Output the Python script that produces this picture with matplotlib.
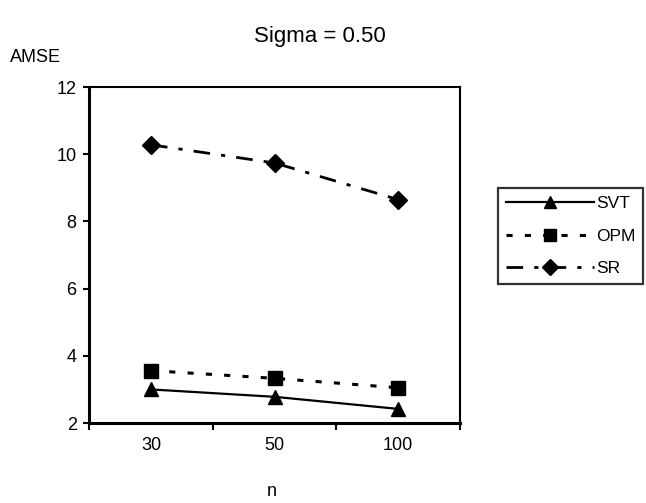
import matplotlib
matplotlib.use("Agg")
import matplotlib.pyplot as plt
import numpy as np

plt.rcParams['font.family'] = ['Liberation Sans', 'DejaVu Sans']

# AMSE by sample size
sample_sizes = ['30', '50', '100']
svt = [3.0, 2.78, 2.42]
opm = [3.56, 3.33, 3.05]
sr = [10.28, 9.74, 8.65]

fig = plt.figure(figsize=(6.46, 5.03), dpi=100)
ax = fig.add_axes([0.138, 0.159, 0.574, 0.668])

x = np.arange(len(sample_sizes))
ax.plot(x, svt, color='black', linestyle='-', linewidth=1.6,
        marker='^', markersize=10, label='SVT')
ax.plot(x, opm, color='black', linestyle=(0, (2, 4)), linewidth=2.2,
        marker='s', markersize=10, label='OPM')
ax.plot(x, sr, color='black', linestyle=(0, (6, 4, 1.5, 4)), linewidth=2,
        marker='D', markersize=9, label='SR')

ax.set_xlim(-0.5, 2.5)
ax.set_ylim(2, 12)
ax.set_yticks([2, 4, 6, 8, 10, 12])

# category labels sit between tick marks
ax.set_xticks([-0.5, 0.5, 1.5, 2.5])
ax.set_xticklabels([])
ax.set_xticks(x, minor=True)
ax.set_xticklabels(sample_sizes, minor=True)
ax.tick_params(axis='x', which='minor', length=0, pad=10, labelsize=13)
ax.tick_params(axis='x', which='major', length=5, width=1.5, direction='out')
ax.tick_params(axis='y', length=4, width=1.5, direction='out', labelsize=13, pad=5)

for side in ['left', 'bottom']:
    ax.spines[side].set_linewidth(2.2)
for side in ['top', 'right']:
    ax.spines[side].set_linewidth(1.5)

fig.text(0.495, 0.928, 'Sigma = 0.50', ha='center', va='center', fontsize=16)
fig.text(0.016, 0.886, 'AMSE', ha='left', va='center', fontsize=13)
fig.text(0.42, 0.022, 'n', ha='center', va='center', fontsize=13)

leg = ax.legend(loc='upper left', bbox_to_anchor=(0.771, 0.626),
                bbox_transform=fig.transFigure, handlelength=5.1,
                fontsize=12.5, frameon=True, fancybox=False,
                borderpad=0.45, borderaxespad=0, labelspacing=1.0,
                handletextpad=0.1, markerscale=0.85)
leg.get_frame().set_edgecolor('black')
leg.get_frame().set_linewidth(1.6)

fig.savefig('out.png', dpi=100)
